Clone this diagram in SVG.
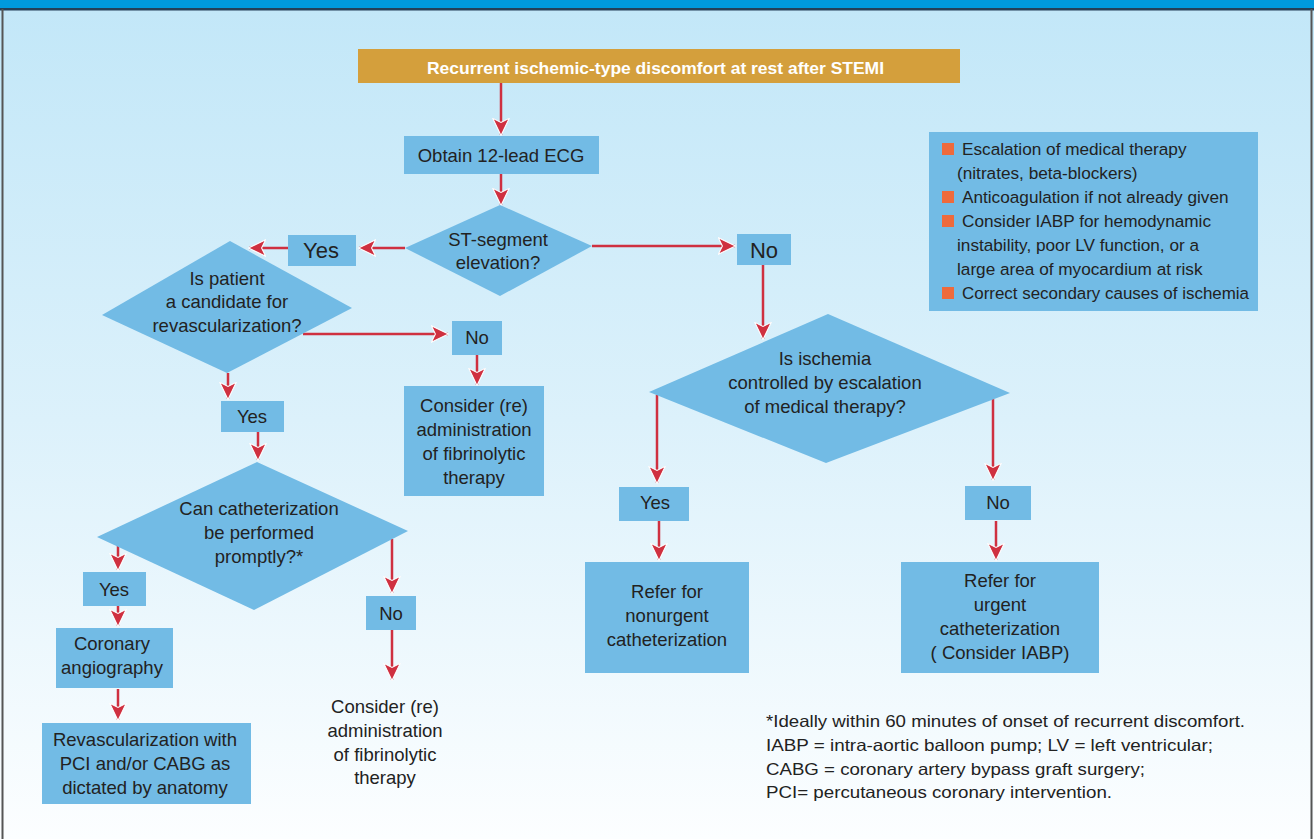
<svg xmlns="http://www.w3.org/2000/svg" width="1314" height="839" viewBox="0 0 1314 839">
<defs>
<linearGradient id="bg" x1="0" y1="0" x2="0" y2="1">
<stop offset="0" stop-color="#c2e7f8"/>
<stop offset="0.5" stop-color="#dcf1fb"/>
<stop offset="1" stop-color="#fcfeff"/>
</linearGradient>
<marker id="ah" viewBox="0 0 20 20" markerWidth="18" markerHeight="18" markerUnits="userSpaceOnUse" refX="19" refY="10" orient="auto">
<path d="M19.5,10 L0.5,0.8 L5,10 L0.5,19.2 Z" fill="#cf3040" stroke="#ffffff" stroke-width="1.2" stroke-linejoin="miter"/>
</marker>
<style>
.box{fill:#72bbe5;}
.t{font-family:"Liberation Sans",Arial,sans-serif;font-size:18.5px;fill:#222;text-anchor:middle;}
.tl{font-family:"Liberation Sans",Arial,sans-serif;font-size:17.2px;fill:#222;}
.fn{font-family:"Liberation Sans",Arial,sans-serif;font-size:16.5px;fill:#222;}
.big{font-size:22px;}
.c{fill:none;stroke:#cf3040;stroke-width:2.5;marker-end:url(#ah);}
.bul{fill:#ee6a3c;}
</style>
</defs>
<rect x="0" y="0" width="1314" height="839" fill="url(#bg)"/>
<rect x="0" y="0" width="1314" height="8" fill="#0099dd"/>
<rect x="0" y="8" width="1314" height="2.5" fill="#243f58"/>
<rect x="1.5" y="9" width="2" height="830" fill="#555"/>
<rect x="1310.5" y="9" width="2" height="830" fill="#555"/>

<g id="connectors">
<line class="c" x1="501" y1="83" x2="501" y2="135"/>
<line class="c" x1="501" y1="174" x2="501" y2="205"/>
<line class="c" x1="405" y1="248" x2="359" y2="248"/>
<line class="c" x1="288" y1="248" x2="249" y2="248"/>
<line class="c" x1="592" y1="246" x2="735" y2="246"/>
<line class="c" x1="763" y1="265" x2="763" y2="339"/>
<line class="c" x1="303" y1="334" x2="448" y2="334"/>
<line class="c" x1="477" y1="355" x2="477" y2="385"/>
<line class="c" x1="228" y1="373" x2="228" y2="399"/>
<line class="c" x1="258" y1="432" x2="258" y2="460"/>
<line class="c" x1="118" y1="545" x2="118" y2="570"/>
<line class="c" x1="118" y1="606" x2="118" y2="626"/>
<line class="c" x1="118" y1="689" x2="118" y2="720"/>
<line class="c" x1="392" y1="539" x2="392" y2="593"/>
<line class="c" x1="392" y1="630" x2="392" y2="680"/>
<line class="c" x1="657" y1="395" x2="657" y2="483"/>
<line class="c" x1="659" y1="521" x2="659" y2="560"/>
<line class="c" x1="993" y1="399" x2="993" y2="480"/>
<line class="c" x1="996" y1="521" x2="996" y2="560"/>
</g>

<g id="start">
<rect x="358" y="49" width="602" height="34" fill="#d49f3c"/>
<text x="655.5" y="74" font-family="'Liberation Sans',Arial,sans-serif" font-size="17" font-weight="bold" fill="#ffffff" text-anchor="middle" textLength="457" lengthAdjust="spacingAndGlyphs">Recurrent ischemic-type discomfort at rest after STEMI</text>
</g>

<g id="ecg">
<rect class="box" x="404" y="136" width="195" height="38"/>
<text class="t" x="501" y="162">Obtain 12-lead ECG</text>
</g>

<g id="st">
<polygon class="box" points="500,205 592,246 500,296 405,248"/>
<text class="t" x="498" y="246">ST-segment</text>
<text class="t" x="498" y="269">elevation?</text>
</g>

<g id="yes1">
<rect class="box" x="288" y="235" width="68" height="31"/>
<text class="t big" x="321" y="258">Yes</text>
</g>

<g id="no1">
<rect class="box" x="737" y="234" width="54" height="31"/>
<text class="t big" x="764" y="258">No</text>
</g>

<g id="candidate">
<polygon class="box" points="230,241 352,308 227,373 102,315"/>
<text class="t" x="227" y="285">Is patient</text>
<text class="t" x="227" y="308">a candidate for</text>
<text class="t" x="227" y="332">revascularization?</text>
</g>

<g id="no2">
<rect class="box" x="452" y="321" width="50" height="34"/>
<text class="t" x="477" y="344">No</text>
</g>

<g id="fibrinolytic1">
<rect class="box" x="404" y="386" width="140" height="110"/>
<text class="t" x="474" y="412">Consider (re)</text>
<text class="t" x="474" y="436">administration</text>
<text class="t" x="474" y="460">of fibrinolytic</text>
<text class="t" x="474" y="484">therapy</text>
</g>

<g id="yes2">
<rect class="box" x="221" y="401" width="63" height="31"/>
<text class="t" x="252" y="423">Yes</text>
</g>

<g id="cath">
<polygon class="box" points="257,462 408,531 254,610 97,537"/>
<text class="t" x="259" y="515">Can catheterization</text>
<text class="t" x="259" y="539">be performed</text>
<text class="t" x="259" y="563">promptly?*</text>
</g>

<g id="yes3">
<rect class="box" x="83" y="572" width="63" height="34"/>
<text class="t" x="114" y="596" font-size="20">Yes</text>
</g>

<g id="angio">
<rect class="box" x="56" y="628" width="117" height="60"/>
<text class="t" x="112" y="650">Coronary</text>
<text class="t" x="112" y="674">angiography</text>
</g>

<g id="revasc">
<rect class="box" x="42" y="723" width="209" height="81"/>
<text class="t" x="145" y="746">Revascularization with</text>
<text class="t" x="145" y="770">PCI and/or CABG as</text>
<text class="t" x="145" y="794">dictated by anatomy</text>
</g>

<g id="no3">
<rect class="box" x="366" y="596" width="50" height="34"/>
<text class="t" x="391" y="620" font-size="20">No</text>
</g>

<g id="fibrinolytic2">
<text class="t" x="385" y="713">Consider (re)</text>
<text class="t" x="385" y="737">administration</text>
<text class="t" x="385" y="761">of fibrinolytic</text>
<text class="t" x="385" y="784">therapy</text>
</g>

<g id="ischemia">
<polygon class="box" points="828,314 1010,393 826,463 649,392"/>
<text class="t" x="825" y="365">Is ischemia</text>
<text class="t" x="825" y="389">controlled by escalation</text>
<text class="t" x="825" y="413">of medical therapy?</text>
</g>

<g id="yes4">
<rect class="box" x="619" y="487" width="70" height="34"/>
<text class="t" x="655" y="509">Yes</text>
</g>

<g id="nonurgent">
<rect class="box" x="585" y="562" width="164" height="111"/>
<text class="t" x="667" y="598">Refer for</text>
<text class="t" x="667" y="622">nonurgent</text>
<text class="t" x="667" y="646">catheterization</text>
</g>

<g id="no4">
<rect class="box" x="965" y="486" width="66" height="34"/>
<text class="t" x="998" y="509">No</text>
</g>

<g id="urgent">
<rect class="box" x="901" y="562" width="198" height="111"/>
<text class="t" x="1000" y="587">Refer for</text>
<text class="t" x="1000" y="611">urgent</text>
<text class="t" x="1000" y="635">catheterization</text>
<text class="t" x="1000" y="659">( Consider IABP)</text>
</g>

<g id="therapy-list">
<rect class="box" x="929" y="132" width="329" height="179"/>
<rect class="bul" x="942" y="143" width="12" height="12"/>
<rect class="bul" x="942" y="191" width="12" height="12"/>
<rect class="bul" x="942" y="215" width="12" height="12"/>
<rect class="bul" x="942" y="287" width="12" height="12"/>
<text class="tl" x="962" y="155">Escalation of medical therapy</text>
<text class="tl" x="957" y="179">(nitrates, beta-blockers)</text>
<text class="tl" x="962" y="203">Anticoagulation if not already given</text>
<text class="tl" x="962" y="227">Consider IABP for hemodynamic</text>
<text class="tl" x="957" y="251">instability, poor LV function, or a</text>
<text class="tl" x="957" y="275">large area of myocardium at risk</text>
<text class="tl" x="962" y="299" textLength="287" lengthAdjust="spacingAndGlyphs">Correct secondary causes of ischemia</text>
</g>

<g id="footnote">
<text class="fn" x="766" y="727" textLength="479" lengthAdjust="spacingAndGlyphs">*Ideally within 60 minutes of onset of recurrent discomfort.</text>
<text class="fn" x="766" y="751" textLength="447" lengthAdjust="spacingAndGlyphs">IABP = intra-aortic balloon pump; LV = left ventricular;</text>
<text class="fn" x="766" y="775" textLength="379" lengthAdjust="spacingAndGlyphs">CABG = coronary artery bypass graft surgery;</text>
<text class="fn" x="766" y="798" textLength="346" lengthAdjust="spacingAndGlyphs">PCI= percutaneous coronary intervention.</text>
</g>
</svg>
